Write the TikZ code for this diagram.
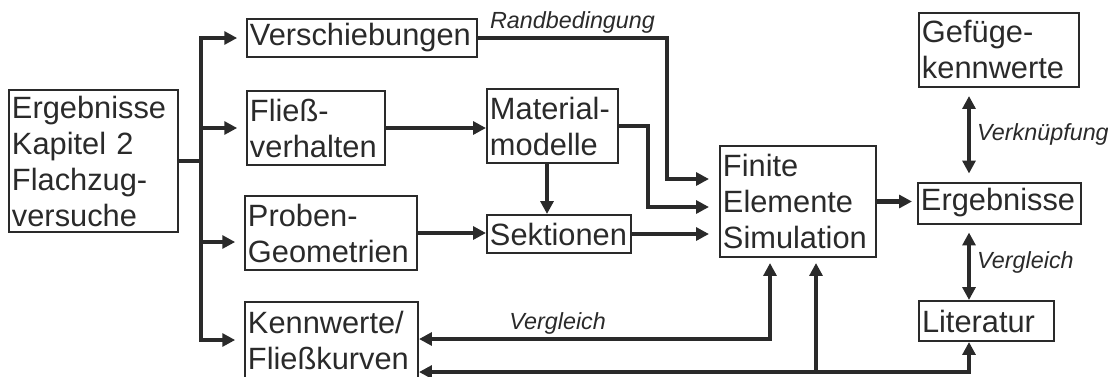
\documentclass[tikz,border=0pt]{standalone}
\usepackage{fontspec}
\setmainfont{Liberation Sans}
\usetikzlibrary{arrows.meta}

\definecolor{ink}{HTML}{2A2A2A}
\newcommand{\boxfont}{\fontsize{21.9}{25.6}\selectfont}
\newcommand{\lblfont}{\fontsize{16.6}{20}\selectfont\itshape}

\begin{document}
\begin{tikzpicture}[x=0.025cm, y=-0.025cm, color=ink,
	>={Triangle[length=0.32cm,width=0.32cm]},
	box/.style={draw, line width=0.05cm, inner xsep=0.075cm, inner ysep=0.05cm, align=left, font=\boxfont},
	conn/.style={line width=0.11cm},
	lbl/.style={font=\lblfont, inner sep=0.05cm}]
	\useasboundingbox (0,0) rectangle (1108,376);

	% input and test series
	\node[box, text width=4.075cm, minimum height=3.55cm] (erg) at (93.5,161) {Ergebnisse\\Kapitel 2\\Flachzug-\\versuche};
	\node[box, text width=5.6cm, minimum height=0.95cm] (versch) at (362,38) {Verschiebungen};
	\node[box, text width=3.3cm, minimum height=1.85cm] (fliess) at (316,128) {Flie\ss-\\verhalten};
	\node[box, text width=4.15cm, minimum height=1.85cm] (proben) at (331,233) {Proben-\\Geometrien};
	\node[box, text width=4.175cm, minimum height=1.9cm] (kenn) at (331.5,340) {Kennwerte/\\Flie\ss kurven};

	% model
	\node[box, text width=3.125cm, minimum height=1.85cm] (mat) at (552.5,126) {Material-\\modelle};
	\node[box, text width=3.45cm, minimum height=0.95cm] (sekt) at (559,234) {Sektionen};
	\node[box, text width=3.75cm, minimum height=2.775cm] (fe) at (798,201.5) {Finite\\Elemente\\Simulation};

	% results
	\node[box, text width=3.925cm, minimum height=1.025cm] (ergr) at (999.5,203) {Ergebnisse};
	\node[box, text width=3.85cm, minimum height=1.85cm] (gef) at (999,50) {Gef\"uge-\\kennwerte};
	\node[box, text width=3.225cm, minimum height=1.0cm] (lit) at (986.5,321) {Literatur};

	\coordinate (bus) at (201,161);
	\coordinate (rb) at (667,179);
	\coordinate (mb) at (648,207);
	\coordinate (ms) at (547,163);
	\coordinate (vx) at (969,0);
	\coordinate (fa) at (770,339);
	\coordinate (fb) at (816,372);

	\draw[conn] (erg.east) -- (bus);
	\draw[conn,->,shorten >=0.22cm] (bus) |- (versch.west);
	\draw[conn,->,shorten >=0.22cm] (bus) |- (fliess.west);
	\draw[conn,->,shorten >=0.22cm] (bus) |- ([yshift=-0.225cm]proben.west);
	\draw[conn,->,shorten >=0.22cm] (bus) |- (kenn.west);

	\draw[conn,->] (fliess.east) -- (fliess.east -| mat.west);
	\draw[conn,->] (ms) -- (ms |- sekt.north);
	\draw[conn,->] (proben.east) -- (proben.east -| sekt.west);

	\draw[conn,->,shorten >=0.25cm] (versch.east) -| node[lbl,pos=0.25,above] {Randbedingung} (rb) -- (rb -| fe.west);
	\draw[conn,->,shorten >=0.25cm] (mat.east) -| (mb) -- (mb -| fe.west);
	\draw[conn,->,shorten >=0.25cm] (sekt.east) -- (sekt.east -| fe.west);
	\draw[conn,->,shorten >=0.125cm] (fe.east) -- (fe.east -| ergr.west);

	\draw[conn,<->,shorten <=0.2cm,shorten >=0.2cm] (gef.south -| vx) -- node[lbl,right,inner xsep=0.15cm] {Verkn\"upfung} (ergr.north -| vx);
	\draw[conn,<->,shorten <=0.2cm] (ergr.south -| vx) -- node[lbl,right,inner xsep=0.15cm] {Vergleich} (lit.north -| vx);

	% feedback to the measured curves
	\draw[conn,<->,shorten <=0.125cm] (fe.south -| fa) -- (fa) -- node[lbl,pos=0.605,above] {Vergleich} (fa -| kenn.east);
	\draw[conn,<->] (fb -| kenn.east) -- (vx |- fb) -- (lit.south -| vx);
	\draw[conn,->,shorten >=0.125cm] (fb) -- (fe.south -| fb);
\end{tikzpicture}
\end{document}
